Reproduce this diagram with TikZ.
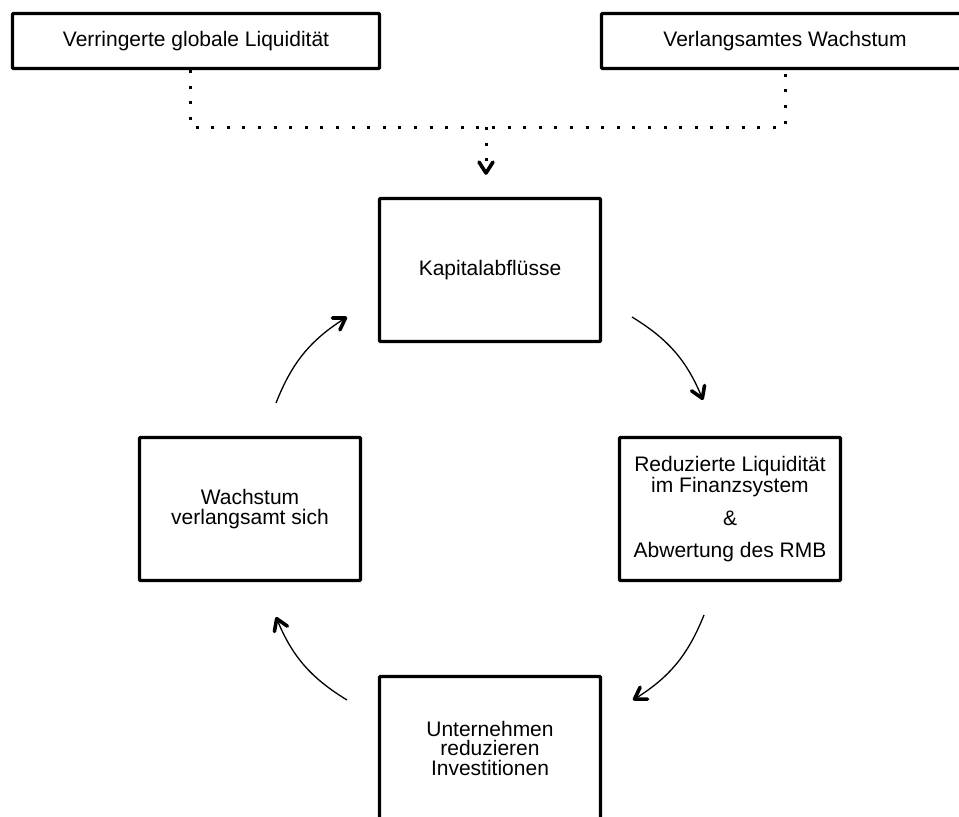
\documentclass[tikz,border=0pt]{standalone}
\usepackage{fontspec}
\setmainfont{Liberation Sans}
\usetikzlibrary{arrows.meta,calc}

\tikzset{
  box/.style={draw, line width=3.3pt, rounded corners=1pt, minimum width=221pt, minimum height=143pt,
    inner sep=0pt, align=center, font=\fontsize{21}{19.5}\selectfont},
  topbox/.style={box, minimum width=367pt, minimum height=55pt},
  cyc/.style={line width=1.3pt, -{Straight Barb[length=11pt,width=14pt,line width=3.6pt,round]}},
  feed/.style={line width=3pt, dash pattern=on 3pt off 12.6pt},
}

\begin{document}
\begin{tikzpicture}[x=1pt,y=-1pt]
\useasboundingbox (0,0) rectangle (959,817);

% Top boxes
\node [topbox] (lq) at (196,41) {Verringerte globale Liquidität};
\node [topbox] (ws) at (785,41) {Verlangsamtes Wachstum};

% Cycle boxes
\node [box] (kap) at (490,270) {Kapitalabflüsse};
\node [box] (rl) at (730,509) {Reduzierte Liquidität\\im Finanzsystem\\[14pt]\&\\[12pt]Abwertung des RMB};
\node [box] (ui) at (490,748) {Unternehmen\\reduzieren\\Investitionen};
\node [box] (wvs) at (250,509) {Wachstum\\verlangsamt sich};

% Dotted feed into the cycle
\coordinate (jn) at (486,127);
\draw [feed] ([xshift=-6pt]lq.south) |- (jn) -| (ws.south);
\draw [feed, shorten >=22pt, -{Straight Barb[length=11pt,width=14pt,line width=3.6pt,round]}] (jn) -- (jn |- kap.north);

% Curved arrows between the boxes
\coordinate (a1) at (276,403);  \coordinate (b1) at (347,317);
\coordinate (a2) at (632,317);  \coordinate (b2) at (703,400);
\coordinate (a3) at (704,615);  \coordinate (b3) at (633,700);
\coordinate (a4) at (347,700);  \coordinate (b4) at (276,617);
\draw [cyc] (a1) to [bend left=18] (b1);
\draw [cyc] (a2) to [bend left=18] (b2);
\draw [cyc] (a3) to [bend left=18] (b3);
\draw [cyc] (a4) to [bend left=18] (b4);

\end{tikzpicture}
\end{document}
